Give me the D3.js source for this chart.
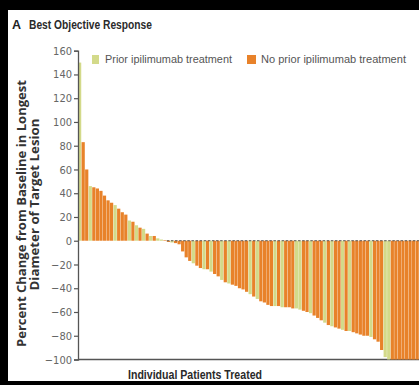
<!DOCTYPE html>
<html>
<head>
<meta charset="utf-8">
<script src="https://cdn.jsdelivr.net/npm/d3@7"></script>
<style>
  html, body { margin: 0; padding: 0; background: #000; }
  svg { display: block; }
</style>
</head>
<body>
<svg id="chart" width="419" height="385"></svg>
<script>
// Best percent change from baseline in the longest diameter of the target lesion,
// one bar per patient, sorted from largest increase to largest decrease.
const pctChange = [
  150, 83, 60, 46, 45, 44, 42, 38, 34, 32,
  30, 27, 24, 22, 17, 16, 13, 11, 10, 6,
  4, 4, 2, 1, 0.5, -1, -1.5, -2, -3, -9,
  -14, -17, -19, -21, -23, -24, -24, -26, -28, -30,
  -33, -35, -36, -37, -38, -40, -41, -43, -45, -47,
  -49, -51, -52, -54, -55, -55, -55, -56, -56, -56,
  -57, -57, -58, -59, -60, -61, -63, -65, -67, -69,
  -71, -72, -73, -74, -75, -76, -76, -77, -78, -79,
  -80, -80, -81, -83, -85, -92, -98, -100, -100, -100,
  -100, -100, -100, -100, -100, -100, -100
];
// 1 = prior ipilimumab treatment, 0 = no prior ipilimumab treatment
const priorIpi = [
  1, 0, 0, 1, 0, 0, 0, 0, 0, 0,
  1, 0, 0, 0, 1, 0, 1, 0, 1, 0,
  1, 0, 1, 1, 0, 0, 1, 0, 0, 0,
  0, 0, 1, 0, 0, 1, 0, 1, 0, 0,
  1, 0, 1, 0, 0, 0, 0, 0, 1, 0,
  1, 0, 0, 0, 0, 1, 0, 1, 0, 0,
  0, 1, 1, 0, 0, 1, 0, 0, 0, 1,
  0, 1, 0, 0, 1, 0, 1, 0, 0, 0,
  0, 0, 1, 0, 0, 0, 1, 1, 0, 0,
  0, 0, 0, 0, 0, 0, 0
];
const yTicks = [160, 140, 120, 100, 80, 60, 40, 20, 0, -20, -40, -60, -80, -100];
const legendLabels = ["Prior ipilimumab treatment", "No prior ipilimumab treatment"];

const colors = { prior: "#d3da8a", none: "#e8822a" };
const svg = d3.select("#chart");

// white panel inside the dark frame
svg.append("rect").attr("x", 8).attr("y", 10).attr("width", 411).attr("height", 371).attr("fill", "#fff");

const x0 = 78, barStep = 3.55;
const x = d3.scaleBand()
  .domain(d3.range(pctChange.length))
  .range([x0, x0 + barStep * pctChange.length])
  .paddingInner(0.09).paddingOuter(0);
const y = d3.scaleLinear().domain([-100, 160]).range([359.5, 50.7]);

// bottom axis line
svg.append("line")
  .attr("x1", x0).attr("x2", 419)
  .attr("y1", y(-100)).attr("y2", y(-100))
  .attr("stroke", "#555").attr("stroke-width", 1.3);

// bars
svg.append("g").selectAll("rect")
  .data(pctChange)
  .join("rect")
  .attr("x", (d, i) => x(i))
  .attr("width", x.bandwidth())
  .attr("y", d => y(Math.max(0, d)))
  .attr("height", d => Math.abs(y(d) - y(0)))
  .attr("fill", (d, i) => priorIpi[i] ? colors.prior : colors.none);

// dashed zero reference over the shrinking lesions
const firstNeg = pctChange.findIndex(v => v < 0);
svg.append("line")
  .attr("x1", x(firstNeg)).attr("x2", 419)
  .attr("y1", y(0)).attr("y2", y(0))
  .attr("stroke", "#555").attr("stroke-width", 1)
  .attr("stroke-dasharray", "2.5,1.6");

// y axis
const yAxis = d3.axisLeft(y).tickValues(yTicks).tickSize(4).tickPadding(2);
const gy = svg.append("g").attr("transform", `translate(${x0},0)`).call(yAxis);
gy.select(".domain").attr("stroke", "#555").attr("stroke-width", 1.3);
gy.selectAll(".tick line").attr("stroke", "#555").attr("stroke-width", 1.2);
gy.selectAll(".tick text")
  .attr("fill", "#666")
  .style("font-family", "'Liberation Sans Narrow', 'DejaVu Sans Condensed', 'Liberation Sans', sans-serif")
  .style("font-size", "11px");

// panel title
svg.append("text").attr("x", 12).attr("y", 29)
  .style("font-family", "'Liberation Sans', sans-serif").style("font-weight", "bold")
  .style("font-size", "12.5px").attr("fill", "#222").text("A");
svg.append("text").attr("x", 29).attr("y", 29)
  .attr("textLength", 123).attr("lengthAdjust", "spacingAndGlyphs")
  .style("font-family", "'Liberation Sans Narrow', 'Liberation Sans', sans-serif").style("font-weight", "bold")
  .style("font-size", "12.5px").attr("fill", "#2a2a2a").text("Best Objective Response");

// legend
const legendX = [92, 247], legendW = [127, 145];
const lg = svg.append("g");
legendLabels.forEach((lab, i) => {
  lg.append("rect").attr("x", legendX[i]).attr("y", 55).attr("width", i ? 9 : 7).attr("height", 9)
    .attr("fill", i ? colors.none : colors.prior);
  lg.append("text").attr("x", legendX[i] + (i ? 14 : 13)).attr("y", 63)
    .attr("textLength", legendW[i]).attr("lengthAdjust", "spacingAndGlyphs")
    .style("font-family", "'Liberation Sans Narrow', 'Liberation Sans', sans-serif")
    .style("font-size", "11.5px").attr("fill", "#555").text(lab);
});

// y axis title (two lines)
const yTitle = [
  { t: "Percent Change from Baseline in Longest", cx: 26, cy: 213.5, len: 267 },
  { t: "Diameter of Target Lesion", cx: 38.5, cy: 204.5, len: 172 }
];
yTitle.forEach(l => {
  svg.append("text")
    .attr("transform", `translate(${l.cx},${l.cy}) rotate(-90)`)
    .attr("text-anchor", "middle")
    .attr("textLength", l.len).attr("lengthAdjust", "spacingAndGlyphs")
    .style("font-family", "'Open Sans', 'Liberation Sans', sans-serif").style("font-weight", "bold")
    .style("font-size", "12.5px").attr("fill", "#333").text(l.t);
});

// x axis title
svg.append("text").attr("x", 195).attr("y", 379).attr("text-anchor", "middle")
  .attr("textLength", 134).attr("lengthAdjust", "spacingAndGlyphs")
  .style("font-family", "'Liberation Sans Narrow', 'Liberation Sans', sans-serif").style("font-weight", "bold")
  .style("font-size", "13px").attr("fill", "#2a2a2a").text("Individual Patients Treated");
</script>
</body>
</html>
